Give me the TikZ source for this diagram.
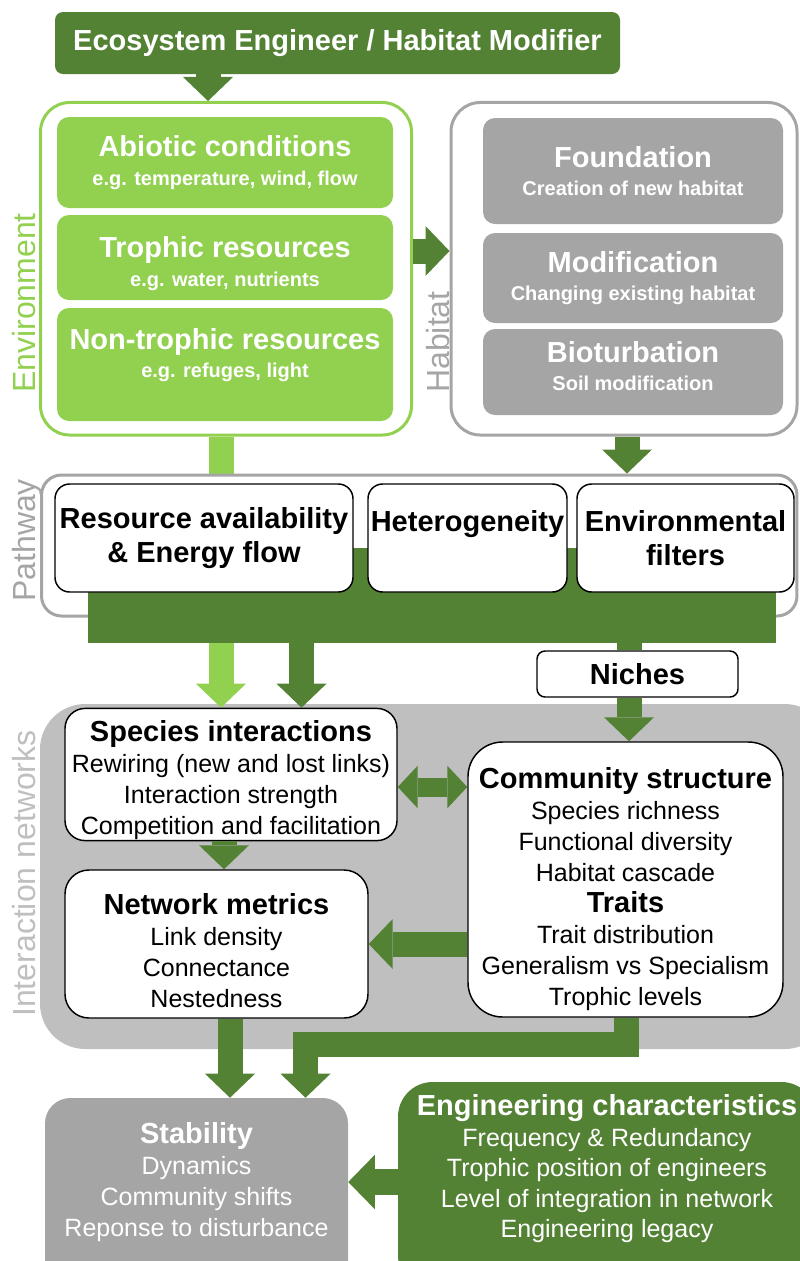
\documentclass[tikz,border=0pt]{standalone}
\usepackage{fontspec}
\setmainfont{Liberation Sans}
\usetikzlibrary{arrows.meta}
\definecolor{dkgreen}{HTML}{548235}
\definecolor{ltgreen}{HTML}{92D050}
\definecolor{boxgrey}{HTML}{A5A5A5}
\definecolor{bggrey}{HTML}{BFBFBF}
\newcommand{\boxtitle}[1]{{\bfseries\fontsize{21.75}{23.25}\selectfont #1}}

\begin{document}
\begin{tikzpicture}[x=0.75pt,y=0.75pt,yscale=-1,xscale=1,
    every node/.style={inner sep=1pt, align=center},
    outerframe/.style={draw, line width=2.25pt, fill=white, rounded corners=22pt, inner sep=0pt},
    greenbox/.style={fill=ltgreen, rounded corners=9pt, text=white, minimum width=252pt,
        font=\bfseries\fontsize{15}{21.5}\selectfont},
    greybox/.style={fill=boxgrey, rounded corners=9pt, text=white, minimum width=225pt,
        font=\bfseries\fontsize{15}{21.5}\selectfont},
    whitebox/.style={draw, line width=1.1pt, fill=white, font=\fontsize{18.75}{23.25}\selectfont},
    pathbox/.style={whitebox, rounded corners=11pt, minimum height=81pt,
        font=\bfseries\fontsize{21.75}{25.5}\selectfont},
    sidelabel/.style={rotate=90, anchor=base west, inner sep=0pt, font=\fontsize{24}{28}\selectfont},
    conn/.style={line width=18.75pt, line join=miter},
    bighead/.tip={Triangle[width=37.5pt,length=18pt,line width=0pt]},
    smallhead/.tip={Triangle[width=32pt,length=15pt,line width=0pt]},
  ]
  \path[use as bounding box] (0,0) rectangle (800,1261);

  %Top box
  \node[fill=dkgreen, rounded corners=6pt, text=white, minimum width=423.75pt, minimum height=46.5pt,
    font=\bfseries\fontsize{21.75}{26}\selectfont] (eng) at (337.5,43) {Ecosystem Engineer / Habitat Modifier};

  %Environment
  \node[outerframe, draw=ltgreen, minimum width=278.25pt, minimum height=249.4pt] (env) at (226,268.75) {};
  \node[greenbox, minimum height=68.25pt] (abio) at (225,162.5)
    {\boxtitle{Abiotic conditions}\\ e.g. temperature, wind, flow};
  \node[greenbox, minimum height=63.75pt] (troph) at (225,257.5)
    {\mbox{}\\[3.4pt] \boxtitle{Trophic resources}\\ e.g. water, nutrients};
  \node[greenbox, minimum height=84.75pt] (nontroph) at (225,364.5)
    {\boxtitle{Non-trophic resources}\\ e.g. refuges, light\\[-4pt] \mbox{}};
  \node[sidelabel, text=ltgreen] (envlab) at (36,393) {Environment};

  %Habitat
  \node[outerframe, draw=boxgrey, minimum width=259.5pt, minimum height=249.4pt] (hab) at (624,268.75) {};
  \node[greybox, minimum height=79.5pt] (found) at (633,171)
    {\boxtitle{Foundation}\\ Creation of new habitat};
  \node[greybox, minimum height=67.5pt] (modif) at (633,278)
    {\boxtitle{Modification}\\ Changing existing habitat};
  \node[greybox, minimum height=64.5pt] (biotu) at (633,372)
    {\boxtitle{Bioturbation}\\ Soil modification\\[-12.5pt] \mbox{}};
  \node[sidelabel, text=boxgrey] (hablab) at (449,393) {Habitat};

  \draw[conn, dkgreen, -bighead] (eng.south -| 208,0) -- (env.north -| 208,0);
  \draw[conn, dkgreen, -bighead] (env.east |- 0,251) -- (hab.west |- 0,251);

  %Interaction networks
  \node[fill=bggrey, rounded corners=34pt, minimum width=592.5pt, minimum height=258.75pt, inner sep=0pt]
    (netbg) at (435,876.5) {};
  \node[sidelabel, text=bggrey] (netlab) at (36,1017) {Interaction networks};
  \node[whitebox, rounded corners=15pt, minimum width=249pt, minimum height=92.25pt] (specint) at (231,774.5)
    {\mbox{}\\[0.25pt] \boxtitle{Species interactions}\\ Rewiring (new and lost links)\\ Interaction strength\\
     Competition and facilitation};
  \node[whitebox, rounded corners=18pt, minimum width=227.25pt, minimum height=111pt] (netmet) at (216.5,944)
    {\mbox{}\\[1.75pt] \boxtitle{Network metrics}\\ Link density\\ Connectance\\ Nestedness};
  \node[whitebox, rounded corners=26pt, minimum width=236.25pt, minimum height=206.25pt] (commst) at (625.5,879.5)
    {\mbox{}\\[6.25pt] \boxtitle{Community structure}\\ Species richness\\ Functional diversity\\ Habitat cascade\\
     \boxtitle{Traits}\\ Trait distribution\\ Generalism vs Specialism\\ Trophic levels};

  \draw[conn, ltgreen, -bighead] (env.south -| 221,0) -- (specint.north -| 221,0);

  %Pathway
  \node[outerframe, draw=boxgrey, rounded corners=15pt, minimum width=566.6pt, minimum height=105.75pt]
    (path) at (419.25,545.5) {};
  \node[sidelabel, text=boxgrey] (pathlab) at (36,602) {Pathway};
  \draw[conn, dkgreen, -bighead] (hab.south -| 627,0) -- (path.north -| 627,0);
  \node[fill=dkgreen, minimum width=516pt, minimum height=71.25pt, inner sep=0pt] (bus) at (432,595.5) {};
  \node[pathbox, minimum width=223.5pt] (resav) at (204,538) {Resource availability\\ \& Energy flow};
  \node[pathbox, minimum width=149.25pt] (hetero) at (467.5,538) {Heterogeneity\\ \mbox{}};
  \node[pathbox, minimum width=162.75pt] (envfilt) at (685.5,538) {Environmental\\ filters};

  \node[whitebox, rounded corners=6pt, minimum width=150.75pt, minimum height=34.5pt,
    font=\bfseries\fontsize{21.75}{25.5}\selectfont] (niches) at (637.5,674) {Niches};

  \draw[conn, dkgreen, -bighead] (bus.south -| 301.5,0) -- (specint.north -| 301.5,0);
  \draw[conn, dkgreen] (bus.south -| 629,0) -- (niches.north -| 629,0);
  \draw[conn, dkgreen, -bighead] (niches.south -| 629,0) -- (commst.north -| 629,0);

  \draw[conn, line width=14.25pt, dkgreen, smallhead-smallhead] (specint.east |- 0,787) -- (commst.west |- 0,787);
  \draw[conn, dkgreen, -bighead] (specint.south -| 224,0) -- (netmet.north -| 224,0);
  \draw[conn, dkgreen, -bighead] (commst.west |- 0,944) -- (netmet.east |- 0,944);

  %Outcome
  \node[fill=boxgrey, rounded corners=19pt, minimum width=227.25pt, minimum height=144pt, text=white,
    font=\fontsize{18.75}{23.25}\selectfont] (stab) at (196.5,1194)
    {\boxtitle{Stability}\\ Dynamics\\ Community shifts\\ Reponse to disturbance\\[-1.4pt] \mbox{}};
  \node[fill=dkgreen, rounded corners=26pt, minimum width=313.5pt, minimum height=156pt, text=white,
    font=\fontsize{18.75}{22.9}\selectfont] (engch) at (607,1186)
    {\boxtitle{Engineering characteristics}\\ Frequency \& Redundancy\\ Trophic position of engineers\\
     Level of integration in network\\ Engineering legacy\\[6.5pt] \mbox{}};

  \coordinate (bendc) at (305.5,1044);
  \draw[conn, dkgreen, -bighead] (netmet.south -| 230,0) -- (stab.north -| 230,0);
  \draw[conn, dkgreen, -bighead] (commst.south -| 626,0) |- (bendc) -- (stab.north -| bendc);
  \draw[conn, line width=20pt, dkgreen, -{Triangle[width=41pt,length=20pt,line width=0pt]}]
    (engch.west |- 0,1182) -- (stab.east |- 0,1182);
\end{tikzpicture}
\end{document}
